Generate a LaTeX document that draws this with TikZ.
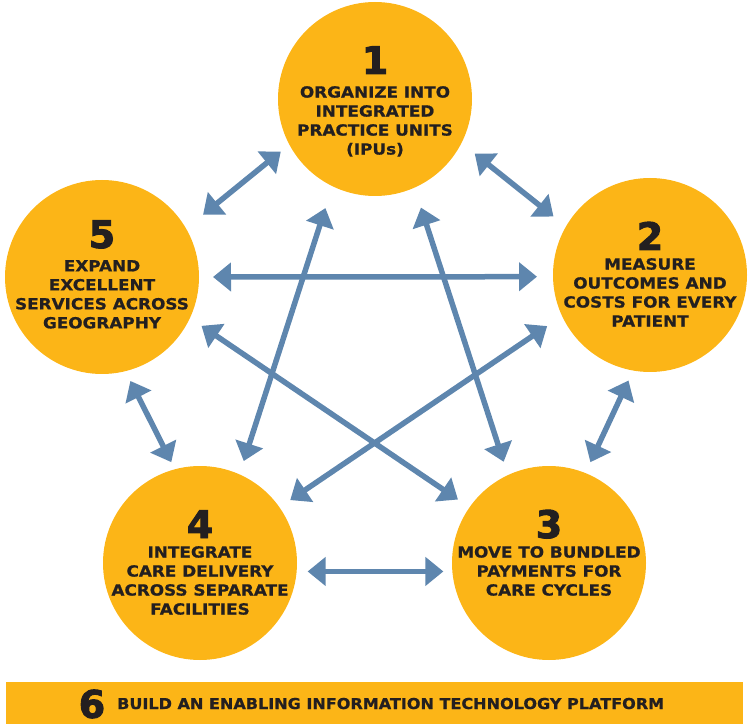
\documentclass[tikz,border=0pt]{standalone}
\usepackage{fontspec}
\setmainfont{DejaVu Sans}
\newfontfamily\widefont{DejaVu Sans}[FakeStretch=1.10,BoldFeatures={FakeBold=0.8}]
\newfontfamily\barfont{DejaVu Sans}[FakeStretch=1.07,BoldFeatures={FakeBold=0.8}]
\newfontfamily\numfont{DejaVu Sans}[BoldFeatures={FakeBold=2.5}]
\usetikzlibrary{calc}
\usetikzlibrary{arrows.meta}
\definecolor{gold}{RGB}{252,181,23}
\definecolor{steel}{RGB}{94,134,174}
\definecolor{ink}{RGB}{35,31,32}

\begin{document}
\begin{tikzpicture}[
		x=1pt, y=-1pt,
		>={Triangle[length=18pt,width=28pt]},
		disc/.style={circle,fill=gold,minimum size=194pt,inner sep=0pt,outer sep=0pt},
		num/.style={font=\numfont\bfseries\fontsize{38}{38}\selectfont,text=ink,anchor=base,inner sep=0pt},
		txt/.style={font=\widefont\bfseries\fontsize{15.3}{19}\selectfont,text=ink,align=center,anchor=north,inner sep=0pt},
		bartxt/.style={font=\barfont\bfseries\fontsize{15}{18}\selectfont,text=ink,anchor=base west,inner sep=0pt},
		link/.style={<->,draw=steel,line width=5.5pt},
	]
	\useasboundingbox (0,0) rectangle (750,727);
	% the five steps
	\node[disc] (c1) at (375,99) {};
	\node[disc] (c2) at (650,275) {};
	\node[disc] (c3) at (549,563) {};
	\node[disc] (c4) at (200,563) {};
	\node[disc] (c5) at (102,277) {};
	\node[num] (n1) at ($(c1)+(0,-25)$) {1};
	\node[num] (n2) at ($(c2)+(0,-25)$) {2};
	\node[num] (n3) at ($(c3)+(0,-25)$) {3};
	\node[num] (n4) at ($(c4)+(0,-25)$) {4};
	\node[num] (n5) at ($(c5)+(0,-29)$) {5};
	\node[txt] (t1) at ($(c1)+(0,-13)$) {ORGANIZE INTO\\INTEGRATED\\PRACTICE UNITS\\(IPUs)};
	\node[txt] (t2) at ($(c2)+(0,-17)$) {MEASURE\\OUTCOMES AND\\COSTS FOR EVERY\\PATIENT};
	\node[txt] (t3) at ($(c3)+(0,-17)$) {MOVE TO BUNDLED\\PAYMENTS FOR\\CARE CYCLES};
	\node[txt] (t4) at ($(c4)+(0,-17)$) {INTEGRATE\\CARE DELIVERY\\ACROSS SEPARATE\\FACILITIES};
	\node[txt] (t5) at ($(c5)+(0,-17)$) {EXPAND\\EXCELLENT\\SERVICES ACROSS\\GEOGRAPHY};
	% every pair is linked
	\draw[link, shorten <=11pt, shorten >=22pt] (c1.208) -- (c5.30);
	\draw[link, shorten <=17pt, shorten >=16pt] (c1.333) -- (c2.150);
	\draw[link, shorten <=14pt, shorten >=16pt] (c5.0) -- (c2.181);
	\draw[link, shorten <=23pt, shorten >=14pt] (c1.244) -- (c4.66);
	\draw[link, shorten <=21pt, shorten >=14pt] (c1.294) -- (c3.115);
	\draw[link, shorten <=14pt, shorten >=14pt] (c5.335) -- (c3.145);
	\draw[link, shorten <=18pt, shorten >=13pt] (c2.205) -- (c4.35);
	\draw[link, shorten <=11pt, shorten >=9pt] (c4.355) -- (c3.185);
	\draw[link, shorten <=11pt, shorten >=8pt] (c5.284) -- (c4.105);
	\draw[link, shorten <=11pt, shorten >=12pt] (c2.260) -- (c3.68);
	% platform bar
	\node[fill=gold, minimum width=737pt, minimum height=42pt, inner sep=0pt] (bar) at (374.5,703) {};
	\node[num, anchor=center] (n6) at (92,704) {6};
	\node[bartxt] (plat) at (117,709) {BUILD AN ENABLING INFORMATION TECHNOLOGY PLATFORM};
\end{tikzpicture}
\end{document}
